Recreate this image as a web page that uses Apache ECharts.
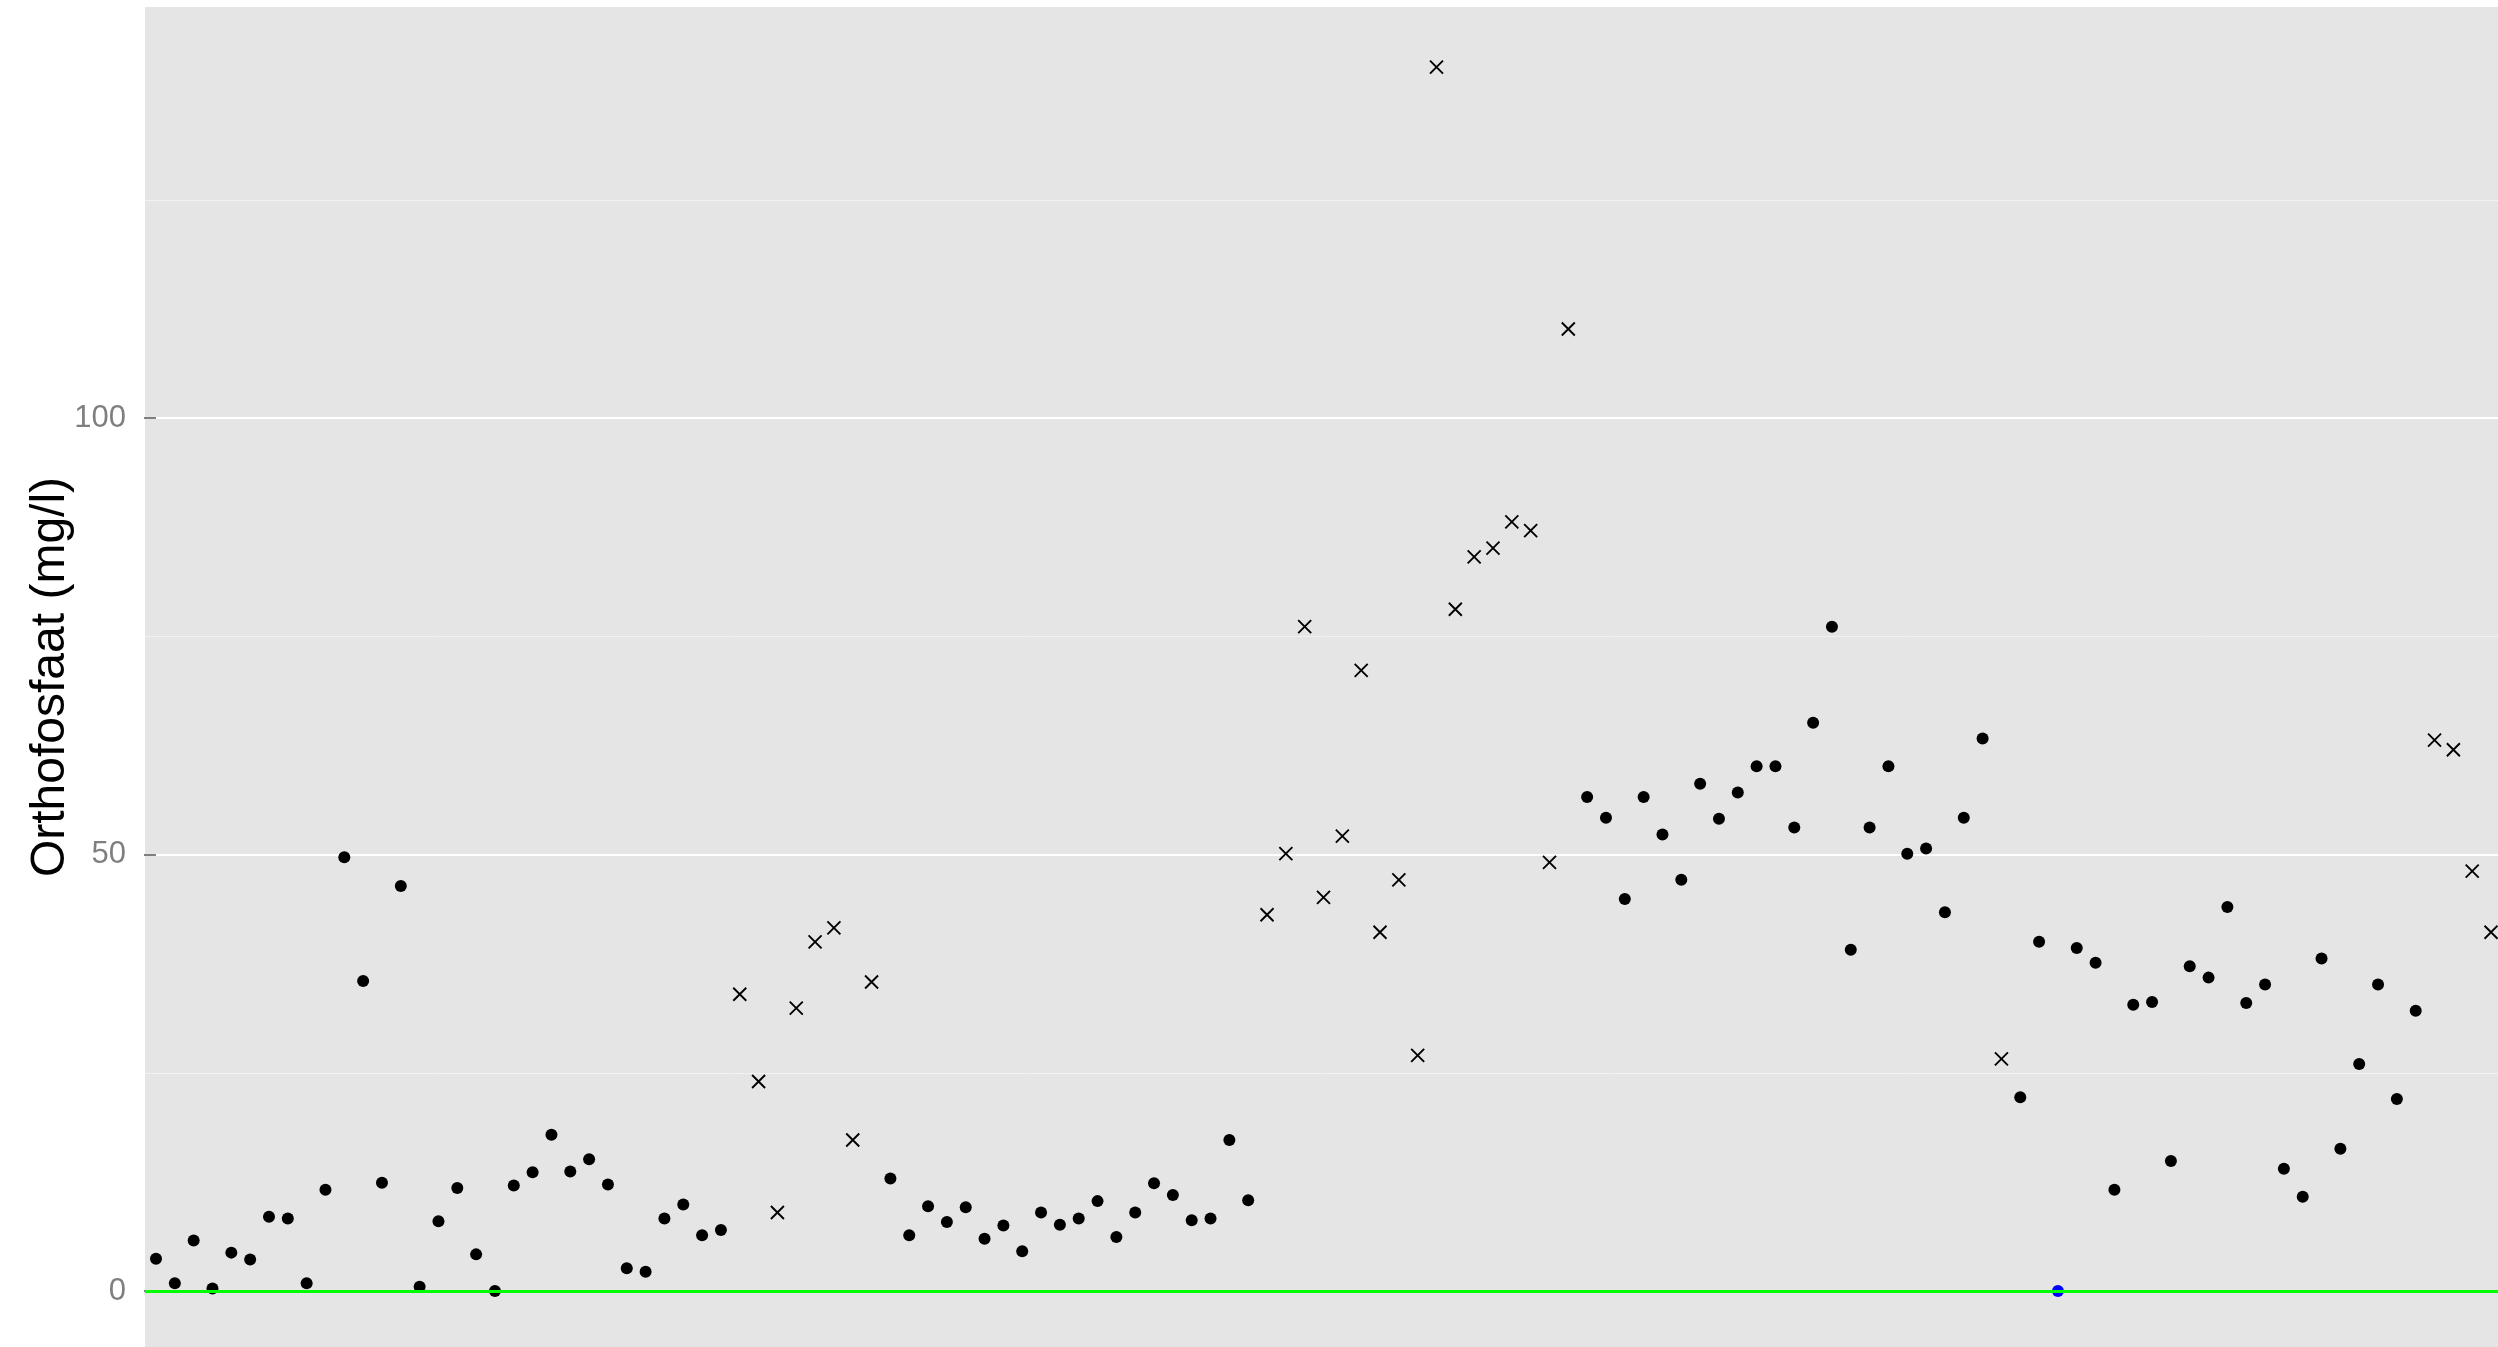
<!DOCTYPE html>
<html>
<head>
<meta charset="utf-8">
<script src="https://cdn.jsdelivr.net/npm/echarts@6/dist/echarts.min.js"></script>
<style>
  html, body { margin: 0; padding: 0; background: #ffffff; }
  #chart { width: 2498px; height: 1347px; }
</style>
</head>
<body>
<div id="chart"></div>
<script>
// ---- data (in sampling order) ----
const group1Dots = [3.7, 0.9, 5.8, 0.3, 4.4, 3.6, 8.5, 8.3, 0.9, 11.6, 49.7, 35.5, 12.4, 46.4, 0.5, 8.0, 11.8, 4.2, 0.0, 12.1, 13.6, 17.9, 13.7, 15.1, 12.2, 2.6, 2.2, 8.3, 9.9, 6.4, 7.0];
const group2Crosses = [34.0, 24.0, 9.0, 32.4, 40.0, 41.6, 17.3, 35.4];
const group3Dots = [12.9, 6.4, 9.7, 7.9, 9.6, 6.0, 7.5, 4.55, 9.0, 7.6, 8.3, 10.3, 6.2, 9.0, 12.35, 11.0, 8.1, 8.3, 17.3, 10.4];
const group4Crosses = [43.1, 50.1, 76.1, 45.1, 52.1, 71.1, 41.1, 47.1, 27.0, 140.2, 78.1, 84.1, 85.1, 88.1, 87.1, 49.1, 110.2];
const group5Dots = [56.6, 54.2, 44.9, 56.6, 52.3, 47.1, 58.1, 54.1, 57.1, 60.1, 60.1, 53.1, 65.1, 76.1, 39.1, 53.1, 60.1, 50.1, 50.7, 43.4, 54.2, 63.3];
const group6Crosses = [26.6];
const group7Dots = [22.2, 40.0];
const group8Blue = [0.0];
const group9Dots = [39.3, 37.6, 11.6, 32.8, 33.1, 14.9, 37.2, 35.9, 44.0, 33.0, 35.1, 14.0, 10.8, 38.1, 16.3, 26.0, 35.1, 22.0, 32.1];
const group10Crosses = [63.1, 62.0, 48.1, 41.1];

const yTicksMajor = [0, 50, 100];
const yTicksMinor = [25, 75, 125];
const referenceLine = 0;
const yTitle = 'Orthofosfaat (mg/l)';

// ---- build series data ----
const groups = [
  ['dot', group1Dots], ['cross', group2Crosses], ['dot', group3Dots], ['cross', group4Crosses],
  ['dot', group5Dots], ['cross', group6Crosses], ['dot', group7Dots], ['blue', group8Blue],
  ['dot', group9Dots], ['cross', group10Crosses]
];
const dotData = [], crossData = [], blueData = [];
let idx = 0;
groups.forEach(([kind, vals]) => {
  vals.forEach(v => {
    const p = [idx, v];
    if (kind === 'dot') dotData.push(p);
    else if (kind === 'cross') crossData.push(p);
    else blueData.push(p);
    idx++;
  });
});

const FONT = '"Liberation Sans", Arial, Helvetica, sans-serif';
const Y_MIN = -6.41, Y_MAX = 147.08;

const chart = echarts.init(document.getElementById('chart'), null, { renderer: 'canvas' });
chart.setOption({
  animation: false,
  backgroundColor: '#ffffff',
  grid: {
    left: 145, right: 0, top: 7, bottom: 0,
    show: true, backgroundColor: '#E5E5E5', borderWidth: 0, containLabel: false
  },
  xAxis: {
    type: 'value', min: -0.584, max: 124.37,
    axisLine: { show: false }, axisTick: { show: false },
    axisLabel: { show: false }, splitLine: { show: false }
  },
  yAxis: [
    {
      type: 'value', min: Y_MIN, max: Y_MAX, position: 'left', z: 1,
      name: yTitle, nameLocation: 'middle', nameGap: 70, nameMoveOverlap: false,
      nameTextStyle: { fontSize: 48, color: '#000000', fontFamily: FONT },
      axisLine: { show: false },
      axisTick: { show: true, length: 12, customValues: yTicksMajor, lineStyle: { color: '#7F7F7F', width: 2 } },
      axisLabel: { show: true, customValues: yTicksMajor, color: '#7F7F7F', fontSize: 31, margin: 19, fontFamily: FONT },
      splitLine: { show: true, lineStyle: { color: '#FFFFFF', width: 2 } }
    },
    {
      type: 'value', min: Y_MIN, max: Y_MAX, position: 'left', z: 0,
      axisLine: { show: false },
      axisTick: { show: false, customValues: yTicksMinor },
      axisLabel: { show: false, customValues: yTicksMinor },
      splitLine: { show: true, lineStyle: { color: '#F2F2F2', width: 1 } }
    }
  ],
  series: [
    {
      type: 'scatter', data: [], z: 1, silent: true,
      markLine: {
        silent: true, symbol: ['none', 'none'], label: { show: false },
        lineStyle: { color: '#00FF00', width: 3, type: 'solid' },
        data: [{ yAxis: referenceLine }]
      }
    },
    {
      type: 'scatter', data: dotData, z: 3, symbol: 'circle', symbolSize: 12,
      itemStyle: { color: '#000000', opacity: 1 }
    },
    {
      type: 'scatter', data: crossData, z: 3, symbol: 'path://M0,0L10,10M10,0L0,10', symbolSize: 13,
      itemStyle: { color: 'none', borderColor: '#000000', borderWidth: 1.9, opacity: 1 }
    },
    {
      type: 'scatter', data: blueData, z: 4, symbol: 'circle', symbolSize: 12,
      itemStyle: { color: '#0000FF', opacity: 1 }
    }
  ]
});
</script>
</body>
</html>
